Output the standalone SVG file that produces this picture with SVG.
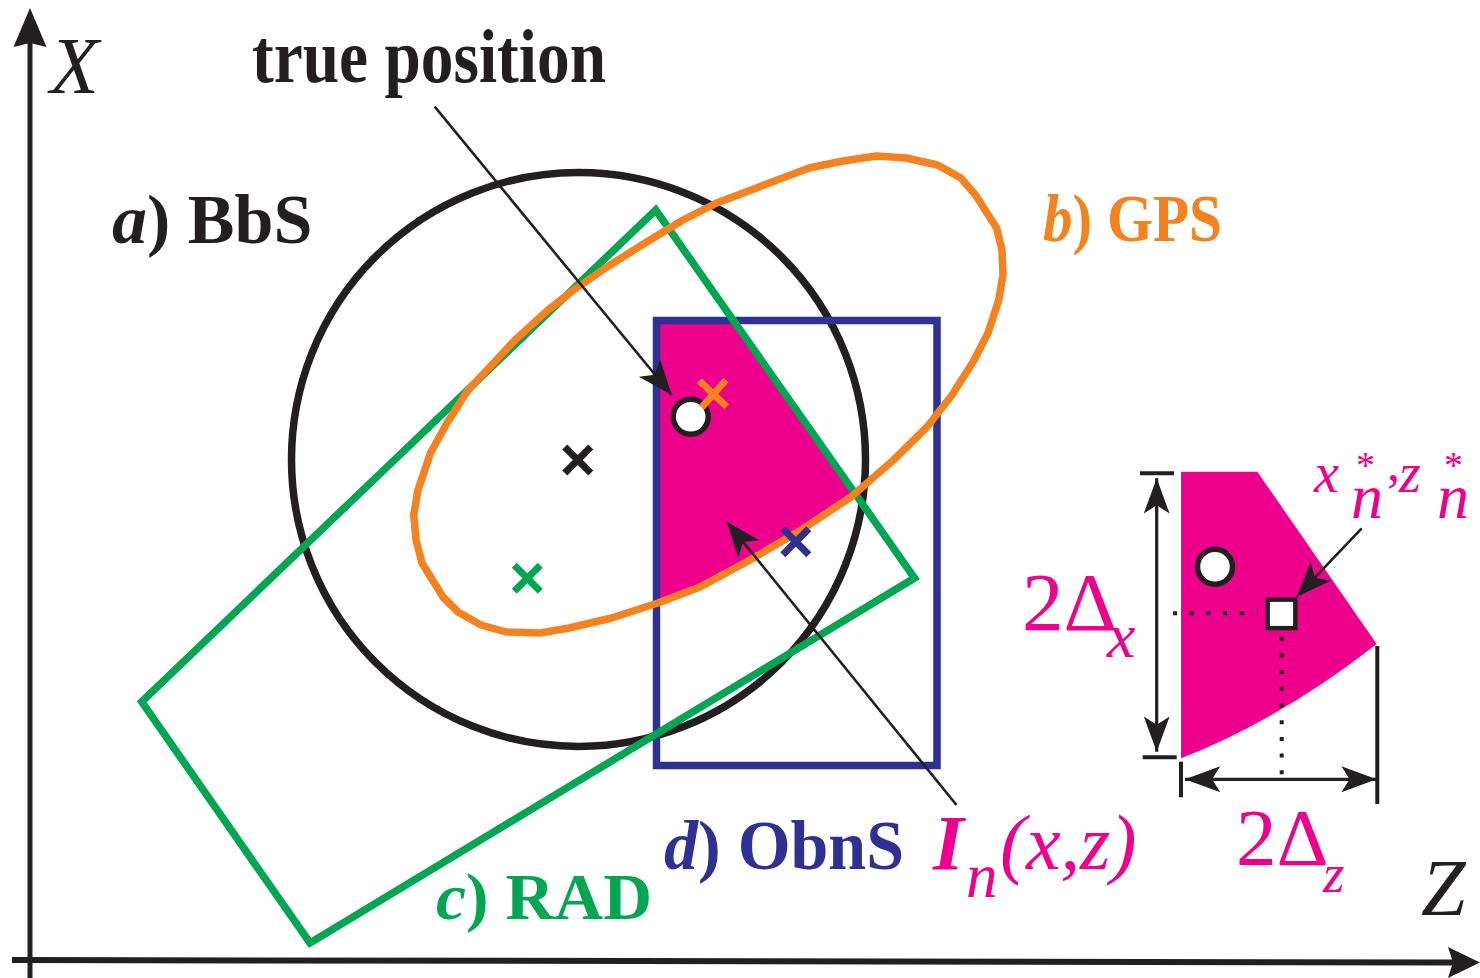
<svg xmlns="http://www.w3.org/2000/svg" width="1480" height="978" viewBox="0 0 1480 978">
<style>
text,tspan{font-family:"Liberation Serif",serif}
.b{font-weight:bold}
.i{font-style:italic}
.blk{fill:#231f20}
.org{fill:#f58220}
.grn{fill:#00a651}
.blu{fill:#2e3192}
.mag{fill:#ec008c}
.mk{fill:none;stroke-width:7;stroke-linecap:butt}
.conn{fill:none;stroke:#231f20;stroke-width:2.6}
.dim{fill:none;stroke:#231f20;stroke-width:3.2}
.tick{fill:none;stroke:#231f20;stroke-width:4}
.dot{fill:none;stroke:#231f20;stroke-width:4;stroke-dasharray:4 12.7}
</style>
<defs>
<marker id="ah" markerUnits="userSpaceOnUse" markerWidth="40" markerHeight="40" viewBox="-30 -15 32 30" refX="0" refY="0" orient="auto">
<path d="M0,0 L-28,-11 L-21,0 L-28,11 Z" fill="#231f20"/>
</marker>
<marker id="ahd" markerUnits="userSpaceOnUse" markerWidth="40" markerHeight="40" viewBox="-32 -15 34 30" refX="0" refY="0" orient="auto-start-reverse">
<path d="M0,0 L-30,-11 L-23,0 L-30,11 Z" fill="#231f20"/>
</marker>
</defs>

<g id="axes">
<line x1="30" y1="40" x2="30" y2="978" stroke="#231f20" stroke-width="5"/>
<path d="M30,8 L46.5,47 L30,43 L13.5,47 Z" fill="#231f20"/>
<line x1="12" y1="960" x2="1455" y2="962.5" stroke="#231f20" stroke-width="6"/>
<path d="M1480,962.5 L1448,978 L1453,962.5 L1448,947 Z" fill="#231f20"/>
<text x="50" y="93" font-size="80" class="i blk">X</text>
<text x="1421" y="915" font-size="80" class="i blk">Z</text>
</g>

<g id="intersection">
<polygon points="656,320 733,320 855,493.5 851,497 801,530 750,560 700,587 658,603 656,604" fill="#ec008c"/>
</g>

<g id="bbs">
<circle cx="578.5" cy="459.5" r="287" fill="none" stroke="#231f20" stroke-width="7.5"/>
</g>

<g id="obns">
<rect x="656.5" y="320.5" width="280.5" height="445" fill="none" stroke="#2e3192" stroke-width="7.5"/>
</g>

<g id="rad">
<polygon points="655.7,210 914.5,578 310,943 141.7,701.7" fill="none" stroke="#00a651" stroke-width="7.5"/>
</g>

<g id="gps">
<polygon points="876.6,156 906,158 937.6,165 960.8,178 975.5,195 996.6,228 1002,250 1003,275 998.7,300 988,333 973,362 952,395 927,427 893.5,460 851,497 801,530 750,560 700,587 658,603 611.5,618 569,628 540,633 506,632 481,625 458,612 443,597 422,563 416,540 413.7,515 418,490 430.5,453 447,423 468,390 493.6,363 515,340 548,310 573.6,290 607,267 645,243 683,220 716.7,203 759,187 809,168 843,161" fill="none" stroke="#f58220" stroke-width="7.5" stroke-linejoin="round"/>
</g>

<g id="markers">
<path class="mk" stroke="#231f20" d="M564.8,447 L590.8,473 M590.8,447 L564.8,473"/>
<path class="mk" stroke="#00a651" d="M514.3,565.3 L540.3,591.3 M540.3,565.3 L514.3,591.3"/>
<path class="mk" stroke="#2e3192" d="M782.8,528.7 L808.8,554.7 M808.8,528.7 L782.8,554.7"/>
<circle id="true-pos" cx="690.7" cy="416.7" r="17.5" fill="#ffffff" stroke="#231f20" stroke-width="5.5"/>
<path class="mk" stroke="#f58220" d="M699.3,380.7 L726.7,406.7 M726,380 L701.7,407.3"/>
</g>

<g id="inset">
<path d="M1181,471.7 L1257.3,471.7 L1376.7,644 Q1281,719 1181,758.3 Z" fill="#ec008c"/>
<circle cx="1215" cy="566.7" r="17.5" fill="#ffffff" stroke="#231f20" stroke-width="5.5"/>
<rect x="1267.7" y="599.7" width="27.6" height="28.4" fill="#ffffff" stroke="#231f20" stroke-width="4.4"/>
<line class="dot" x1="1173" y1="613.3" x2="1258" y2="613.3"/>
<line class="dot" x1="1281.7" y1="636.7" x2="1281.7" y2="776"/>
<line class="tick" x1="1140" y1="473.3" x2="1174" y2="473.3"/>
<line class="tick" x1="1142.7" y1="757.3" x2="1176.7" y2="757.3"/>
<line class="tick" x1="1181" y1="761.7" x2="1181" y2="797.3"/>
<line class="tick" x1="1377.3" y1="646" x2="1377.3" y2="804"/>
</g>

<g id="connectors">
<line class="conn" x1="434.7" y1="106.7" x2="671.7" y2="395" marker-end="url(#ah)"/>
<line class="conn" x1="956.5" y1="805" x2="726.7" y2="521.7" marker-end="url(#ah)"/>
<line class="conn" stroke-width="3.2" x1="1361.7" y1="528.3" x2="1296.7" y2="596.7" marker-end="url(#ah)"/>
<line class="dim" x1="1156.7" y1="478.3" x2="1156.7" y2="751.7" marker-start="url(#ahd)" marker-end="url(#ahd)"/>
<line class="dim" x1="1185" y1="779.3" x2="1376.7" y2="779.3" marker-start="url(#ahd)" marker-end="url(#ahd)"/>
</g>

<g id="labels">
<text x="252" y="82" font-size="76" class="b blk" textLength="354" lengthAdjust="spacingAndGlyphs">true position</text>
<text x="112" y="243" font-size="70" class="b blk"><tspan class="i">a</tspan>) BbS</text>
<text x="1043" y="241" font-size="68" class="b org" textLength="179" lengthAdjust="spacingAndGlyphs"><tspan class="i">b</tspan>) GPS</text>
<text x="436" y="919" font-size="66" class="b grn" textLength="216" lengthAdjust="spacingAndGlyphs"><tspan class="i">c</tspan>) RAD</text>
<text x="664" y="869" font-size="70" class="b blu" textLength="240" lengthAdjust="spacingAndGlyphs"><tspan class="i">d</tspan>) ObnS</text>
<text class="mag"><tspan x="933" y="869" font-size="79" class="b i">I</tspan><tspan x="966" y="897" font-size="63" class="i">n</tspan><tspan x="1000" y="869" font-size="78" class="i">(x,z)</tspan></text>
<text class="mag"><tspan x="1022" y="630" font-size="83">2Δ</tspan><tspan x="1107" y="657" font-size="64" class="i">x</tspan></text>
<text class="mag"><tspan x="1236" y="865" font-size="81">2Δ</tspan><tspan x="1323" y="891.7" font-size="55" class="i">z</tspan></text>
<text class="mag"><tspan x="1314" y="492" font-size="56" class="i">x</tspan><tspan x="1356" y="478" font-size="38">*</tspan><tspan x="1351" y="518" font-size="64" class="i">n</tspan><tspan x="1387" y="480" font-size="52">,</tspan><tspan x="1399" y="492" font-size="56" class="i">z</tspan><tspan x="1444" y="478" font-size="38">*</tspan><tspan x="1437" y="518" font-size="64" class="i">n</tspan></text>
</g>
</svg>
